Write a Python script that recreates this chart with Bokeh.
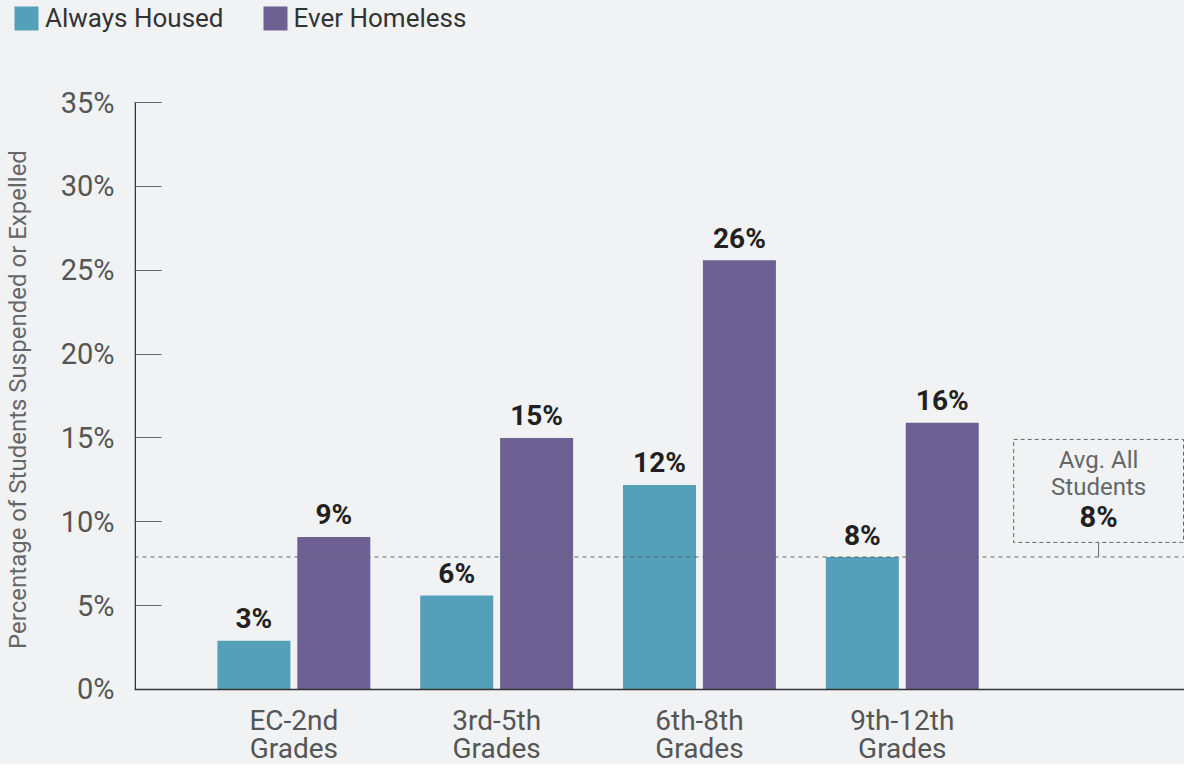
from bokeh.plotting import figure
from bokeh.layouts import column
from bokeh.models import Range1d, FixedTicker, PrintfTickFormatter, Span, Legend, LegendItem
from bokeh.core.properties import value
from bokeh.embed import file_html
from bokeh.resources import INLINE

# ---- data ----
categories = ["EC-2nd\nGrades", "3rd-5th\nGrades", "6th-8th\nGrades", "9th-12th\nGrades"]
always_housed = [2.9, 5.6, 12.2, 7.9]
ever_homeless = [9.1, 15.0, 25.6, 15.9]
always_labels = ["3%", "6%", "12%", "8%"]
homeless_labels = ["9%", "15%", "26%", "16%"]
series_names = ["Always Housed", "Ever Homeless"]
avg_all = 7.9
avg_lines = ["Avg. All", "Students"]
avg_label = "8%"
y_ticks = [0, 5, 10, 15, 20, 25, 30, 35]
y_title = "Percentage of Students Suspended or Expelled"

# ---- style ----
FONT = "Roboto"
BG = "#f1f2f4"
TEAL = "#55a0b9"
PURPLE = "#6d6194"
W = 1184
LEG_H = 34
MAIN_H = 730

# ---- legend strip ----
pl = figure(width=W, height=LEG_H, output_backend="svg", toolbar_location=None,
            x_range=Range1d(0, 1), y_range=Range1d(0, 1),
            x_axis_location=None, y_axis_location=None, frame_align=False,
            min_border=0, background_fill_color=BG, border_fill_color=BG, outline_line_color=None)
pl.xgrid.visible = False
pl.ygrid.visible = False
# swatch renderers placed below the visible range, used only for the legend glyphs
lr1 = pl.vbar(x=[0.5], top=[-5], bottom=[-6], width=0.1, fill_color=TEAL, line_color=None)
lr2 = pl.vbar(x=[0.5], top=[-5], bottom=[-6], width=0.1, fill_color=PURPLE, line_color=None)
legend = Legend(items=[LegendItem(label=series_names[0], renderers=[lr1]),
                       LegendItem(label=series_names[1], renderers=[lr2])],
                orientation="horizontal", location=(11, 1),
                label_text_font=FONT, label_text_font_size="26px", label_text_color="#333333",
                glyph_width=30, glyph_height=30, label_height=30, label_standoff=4,
                spacing=36, padding=0, margin=0, border_line_color=None,
                background_fill_alpha=0)
pl.add_layout(legend)

# ---- main chart ----
PX_PER = 16.77  # pixels per percentage point
y_lo = -(75 / PX_PER)
y_hi = 35 + (102 - LEG_H) / PX_PER
x_lo, x_hi = -0.7857, 4.3916

p = figure(width=W, height=MAIN_H, output_backend="svg", toolbar_location=None,
           x_range=Range1d(x_lo, x_hi), y_range=Range1d(y_lo, y_hi),
           x_axis_location=None, frame_align=False,
           min_border_left=133, min_border_right=0, min_border_top=0, min_border_bottom=0,
           background_fill_color=BG, border_fill_color=BG, outline_line_color=None)
p.xgrid.visible = False
p.ygrid.visible = False

xs = list(range(len(categories)))
ah_x = [i - 0.197 for i in xs]
eh_x = [i + 0.197 for i in xs]

p.vbar(x=ah_x, top=always_housed, width=0.36, fill_color=TEAL, line_color=None)
p.vbar(x=eh_x, top=ever_homeless, width=0.36, fill_color=PURPLE, line_color=None)

lbl_kw = dict(text_align="center", text_baseline="alphabetic", text_font=value(FONT),
              text_font_style="bold", text_font_size="28px", text_color="#231f20")
p.text(x=ah_x, y=always_housed, text=always_labels, y_offset=-22, **lbl_kw)
p.text(x=eh_x, y=ever_homeless, text=homeless_labels, y_offset=-22, **lbl_kw)

# axis lines
p.add_layout(Span(location=0, dimension="width", line_color="#333333", line_width=1.5))
ax_x = x_lo + 0.75 / 203
p.segment(x0=[ax_x], y0=[y_ticks[0]], x1=[ax_x], y1=[y_ticks[-1]],
          line_color="#333333", line_width=1.5)

# category labels (two lines)
line1 = [c.split("\n")[0] for c in categories]
line2 = [c.split("\n")[1] for c in categories]
cat_kw = dict(text_align="center", text_baseline="alphabetic", text_font=value(FONT),
              text_font_size="28px", text_color="#555555")
p.text(x=xs, y=[0] * len(xs), text=line1, y_offset=31.5, **cat_kw)
p.text(x=xs, y=[0] * len(xs), text=line2, y_offset=59, **cat_kw)

# average line and annotation
p.add_layout(Span(location=avg_all, dimension="width", line_color="#666666",
                  line_dash="4 4", line_width=1))
box_l, box_r, box_t, box_b = 3.5493, 4.3867, 14.91, 8.77
box_cx = (box_l + box_r) / 2
p.quad(left=[box_l], right=[box_r], top=[box_t], bottom=[box_b], fill_color=None,
       line_color="#666666", line_dash="4 3", line_width=1)
p.segment(x0=[box_cx], y0=[box_b], x1=[box_cx], y1=[avg_all], line_color="#666666", line_width=1)
p.text(x=[box_cx, box_cx], y=[13.7, 12.05], text=avg_lines, text_align="center",
       text_baseline="middle", text_font=value(FONT), text_font_size="24px", text_color="#666666")
p.text(x=[box_cx], y=[10.26], text=[avg_label], text_align="center", text_baseline="middle",
       text_font=value(FONT), text_font_style="bold", text_font_size="29px", text_color="#231f20")

ya = p.yaxis[0]
ya.ticker = FixedTicker(ticks=y_ticks)
ya.formatter = PrintfTickFormatter(format="%d%%")
ya.major_tick_in = 27
ya.major_tick_out = 0
ya.minor_tick_line_color = None
ya.major_tick_line_color = "#666666"
ya.axis_line_color = None
ya.major_label_text_font = FONT
ya.major_label_text_font_size = "29px"
ya.major_label_text_color = "#555555"
ya.major_label_standoff = 20
ya.axis_label = y_title
ya.axis_label_text_font = FONT
ya.axis_label_text_font_size = "24px"
ya.axis_label_text_font_style = "normal"
ya.axis_label_text_color = "#666666"
ya.axis_label_standoff = 26

layout = column(pl, p, spacing=0, styles={"background-color": BG})
open("out.html", "w").write(file_html(layout, INLINE))
